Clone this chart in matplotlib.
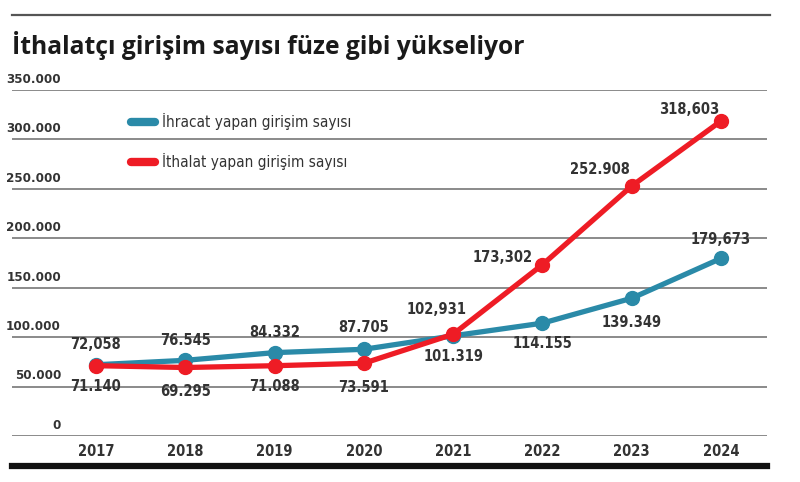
import matplotlib
matplotlib.use("Agg")
import matplotlib.pyplot as plt
from matplotlib.lines import Line2D
import matplotlib.transforms as mtransforms

years = [2017, 2018, 2019, 2020, 2021, 2022, 2023, 2024]
ihracat = [72058, 76545, 84332, 87705, 101319, 114155, 139349, 179673]
ithalat = [71140, 69295, 71088, 73591, 102931, 173302, 252908, 318603]
ihracat_labels = ["72,058", "76.545", "84.332", "87.705", "101.319", "114.155", "139.349", "179,673"]
ithalat_labels = ["71.140", "69.295", "71.088", "73.591", "102,931", "173,302", "252.908", "318,603"]
yticks = [0, 50000, 100000, 150000, 200000, 250000, 300000, 350000]
ytick_labels = ["0", "50.000", "100.000", "150.000", "200.000", "250.000", "300.000", "350.000"]
title = "İthalatçı girişim sayısı füze gibi yükseliyor"
series_names = ["İhracat yapan girişim sayısı", "İthalat yapan girişim sayısı"]

BLUE = "#2a8aa8"
RED = "#ee1c25"
TXT = "#333333"
NARROW = ["DejaVu Sans"]
STRETCH = "condensed"

W, H = 800, 482
fig = plt.figure(figsize=(8, 4.82), dpi=100)
fig.patch.set_facecolor("white")

def fx(px):
    return px / W

def fy(py):
    return 1 - py / H

ax_left, ax_right = 12, 767
ax_top, ax_bot = 90, 436
ax = fig.add_axes([fx(ax_left), fy(ax_bot), fx(ax_right - ax_left), (ax_bot - ax_top) / H])
ax.set_xlim(2016.06, 2024.515)
ax.set_ylim(0, 350000)
for s in ax.spines.values():
    s.set_visible(False)
ax.set_xticks([])
ax.set_yticks([])
ax.patch.set_alpha(0)

for t in yticks:
    ax.axhline(t, color="#8a8a8a", lw=1.4, zorder=1)

trans = mtransforms.blended_transform_factory(ax.transAxes, ax.transData)
for t, lab in zip(yticks, ytick_labels):
    ax.annotate(lab, xy=((61 - ax_left) / (ax_right - ax_left), t), xycoords=trans,
                xytext=(0, 3), textcoords="offset points", ha="right", va="bottom",
                fontsize=9.5, fontweight="bold", color=TXT, family=NARROW, fontstretch=STRETCH)

ax.plot(years, ihracat, color=BLUE, lw=3.8, marker="o", ms=10, zorder=3,
        solid_capstyle="round")
ax.plot(years, ithalat, color=RED, lw=3.8, marker="o", ms=10, zorder=4,
        solid_capstyle="round")

blue_off = [(0, -20), (0, -20), (0, -20), (0, -22), (0, 21), (0, 20), (0, 24), (0, -19)]
red_off = [(0, 21), (0, 24), (0, 21), (0, 24), (-17, -25), (-40, -7), (-32, -16), (-32, -12)]
for x, v, lab, (dx, dy) in zip(years, ihracat, ihracat_labels, blue_off):
    ax.annotate(lab, xy=(x, v), xytext=(dx * 0.72, -dy * 0.72), textcoords="offset points",
                ha="center", va="center", fontsize=10.5, fontweight="bold", color=TXT,
                family=NARROW, fontstretch=STRETCH, zorder=6)
for x, v, lab, (dx, dy) in zip(years, ithalat, ithalat_labels, red_off):
    ax.annotate(lab, xy=(x, v), xytext=(dx * 0.72, -dy * 0.72), textcoords="offset points",
                ha="center", va="center", fontsize=10.5, fontweight="bold", color=TXT,
                family=NARROW, fontstretch=STRETCH, zorder=6)

xtrans = mtransforms.blended_transform_factory(ax.transData, ax.transAxes)
for yr in years:
    ax.text(yr, -(452 - ax_bot) / (ax_bot - ax_top), str(yr), transform=xtrans,
            ha="center", va="center", fontsize=10.5, fontweight="bold", color=TXT,
            family=NARROW, fontstretch=STRETCH)

handles = [Line2D([], [], color=BLUE, lw=6, solid_capstyle="round"),
           Line2D([], [], color=RED, lw=6, solid_capstyle="round")]
leg = ax.legend(handles, series_names, loc="upper left",
                bbox_to_anchor=((131 - ax_left) / (ax_right - ax_left), 1 - (113 - ax_top) / (ax_bot - ax_top)),
                frameon=False, handlelength=1.6, handletextpad=0.45, labelspacing=1.5,
                borderpad=0, borderaxespad=0,
                prop={"family": NARROW, "size": 11, "stretch": STRETCH})
for t in leg.get_texts():
    t.set_color(TXT)

fig.text(fx(12), fy(45), title, ha="left", va="center", fontsize=17.7, fontweight="bold",
         color="#1a1a1a", family=["Open Sans", "DejaVu Sans"])

fig.add_artist(Line2D([fx(12), fx(770)], [fy(15), fy(15)], color="#555555", lw=1.6))
fig.add_artist(Line2D([fx(12), fx(767)], [fy(466), fy(466)], color="#111111", lw=4.5))

fig.savefig("out.png", dpi=100, facecolor="white")
